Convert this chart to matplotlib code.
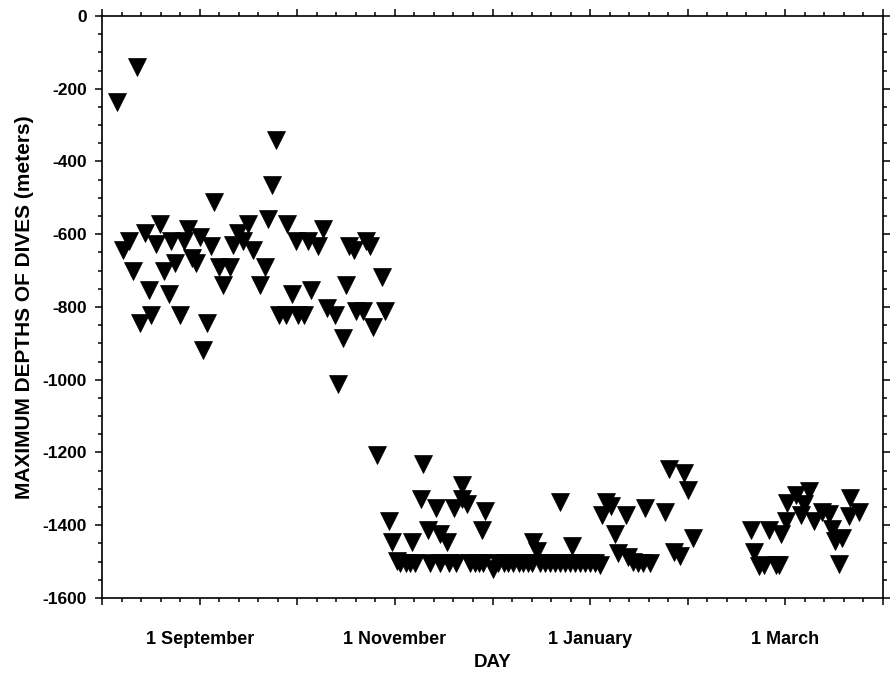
import numpy as np
import matplotlib.pyplot as plt
from matplotlib.ticker import MultipleLocator

plt.rcParams['font.family'] = ['Liberation Sans', 'DejaVu Sans']
plt.rcParams['axes.unicode_minus'] = False

# days counted from the left edge of the axis (1 September = day 30)
summer_day = [4.5, 10.6, 53.6, 52.3, 34.4, 50.9, 17.8, 26.4, 57.0, 68.0,
              13.2, 8.4, 6.5, 16.7, 21.3, 25.2, 30.0, 33.6, 27.8, 29.0,
              22.3, 41.7, 44.8, 40.2, 43.3, 46.3, 59.6, 63.2, 66.5, 75.9,
              77.4, 81.0, 82.3, 9.4, 19.0, 35.9, 39.2, 50.2, 37.3, 48.4,
              14.5, 20.5, 58.4, 64.2, 74.9, 85.9, 15.2, 11.8, 23.9, 32.2,
              31.0, 54.3, 56.5, 60.1, 62.1, 69.0, 71.6, 78.0, 80.2, 86.9,
              83.4, 74.1, 72.6]
summer_depth = [-236, -139, -342, -464, -511, -559, -572, -585, -572, -585,
                -597, -619, -643, -628, -618, -618, -607, -632, -665, -679,
                -679, -597, -572, -630, -619, -642, -619, -619, -632, -632,
                -643, -619, -632, -701, -701, -690, -690, -690, -740, -740,
                -753, -763, -763, -753, -740, -718, -822, -845, -822, -845,
                -918, -822, -822, -822, -822, -803, -822, -812, -812, -812,
                -856, -884, -1013]

winter_day = [84.6, 98.7, 110.6, 97.9, 102.5, 108.1, 110.6, 112.1, 117.8, 116.7,
              88.2, 100.2, 104.0, 106.0, 89.2, 95.3, 90.7,
              91.7, 93.3, 94.8, 96.3, 100.9, 104.0, 106.5, 108.8,
              113.2, 114.5, 115.7, 117.2, 120.3, 121.8, 123.4, 124.9, 126.4,
              128.0, 129.5, 131.0, 132.2,
              134.6, 136.1, 137.7, 139.2, 140.7, 142.3, 143.8, 145.3, 146.8,
              148.4, 149.9, 151.4, 153.0,
              158.6, 161.6, 163.2, 164.7, 166.2, 168.4,
              140.7, 155.0, 156.5, 153.7, 160.9, 166.9, 172.9, 174.2, 179.0,
              180.2, 157.6, 181.7, 175.9, 177.5, 144.3, 132.5, 133.6]
winter_depth = [-1206, -1233, -1289, -1329, -1352, -1352, -1329, -1341, -1362, -1412,
                -1389, -1412, -1423, -1446, -1446, -1446, -1497,
                -1505, -1505, -1505, -1505, -1505, -1505, -1505, -1505,
                -1505, -1505, -1505, -1505, -1520, -1505, -1505, -1505, -1505,
                -1505, -1505, -1505, -1505,
                -1505, -1505, -1505, -1505, -1505, -1505, -1505, -1505, -1505,
                -1505, -1505, -1505, -1508,
                -1476, -1487, -1500, -1505, -1505, -1505,
                -1336, -1336, -1347, -1372, -1372, -1352, -1363, -1245, -1256,
                -1303, -1424, -1435, -1473, -1484, -1457, -1446, -1471]

march_day = [199.4, 205.0, 208.6, 200.4, 201.9, 203.5, 207.0, 208.1, 210.1, 210.6,
             213.2, 217.3, 215.7, 214.7, 218.8, 221.3, 223.4, 224.4, 225.4, 227.4,
             226.4, 230.0, 229.5, 232.6]
march_depth = [-1413, -1413, -1424, -1474, -1512, -1509, -1509, -1509, -1388, -1339,
               -1317, -1306, -1341, -1372, -1388, -1363, -1369, -1410, -1443, -1435,
               -1506, -1325, -1374, -1363]

tick_labels = ['', '1 September', '', '1 November', '', '1 January', '', '1 March', '']

days = summer_day + winter_day + march_day
depths = summer_depth + winter_depth + march_depth

fig = plt.figure(figsize=(8.91, 6.75), dpi=100)
ax = fig.add_axes([0.1145, 0.1141, 0.8765, 0.8622])

ax.plot(days, depths, 'v', color='black', ms=12.5, mew=0.5, mec='black')

ax.set_xlim(0, 239)
ax.set_ylim(-1600, 0)
ax.set_xticks(np.arange(0, 241, 30))
ax.set_xticklabels(tick_labels, fontsize=13, fontweight='bold')
ax.xaxis.set_minor_locator(MultipleLocator(6))
ax.yaxis.set_major_locator(MultipleLocator(200))
ax.yaxis.set_minor_locator(MultipleLocator(50))
for lab in ax.get_yticklabels():
    lab.set_fontsize(12.5)
    lab.set_fontweight('bold')

ax.tick_params(which='both', direction='out', top=True, right=True, width=1.1)
ax.tick_params(which='major', length=5)
ax.tick_params(which='minor', length=3)
ax.tick_params(axis='x', which='major', pad=19)
ax.tick_params(axis='y', which='major', pad=6)
for s in ax.spines.values():
    s.set_linewidth(1.2)

ax.set_xlabel('DAY', fontsize=13.5, fontweight='bold', labelpad=4)
ax.set_ylabel('MAXIMUM DEPTHS OF DIVES (meters)', fontsize=15, fontweight='bold', labelpad=6)

fig.savefig('out.png', dpi=100)
